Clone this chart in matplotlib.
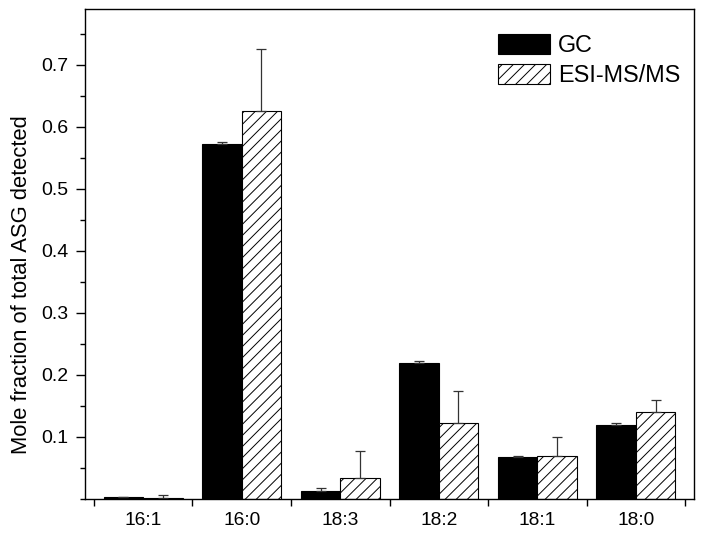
import numpy as np
import matplotlib.pyplot as plt
from matplotlib.ticker import MultipleLocator, NullFormatter

plt.rcParams['font.family'] = ['Liberation Sans', 'DejaVu Sans']
plt.rcParams['hatch.linewidth'] = 0.7

categories = ['16:1', '16:0', '18:3', '18:2', '18:1', '18:0']
gc_vals = [0.003, 0.572, 0.013, 0.219, 0.067, 0.120]
gc_err = [0.001, 0.003, 0.005, 0.003, 0.002, 0.002]
esi_vals = [0.002, 0.625, 0.034, 0.122, 0.069, 0.141]
esi_err = [0.005, 0.101, 0.044, 0.052, 0.031, 0.019]

fig = plt.figure(figsize=(7.04, 5.35), dpi=100)
ax = fig.add_axes([85 / 704, 36 / 535, 609 / 704, 490 / 535])

x = np.arange(1, len(categories) + 1)
w = 0.4
err_kw = dict(ecolor='#333333', elinewidth=0.9, capsize=3.6, capthick=0.9)

ax.bar(x - w / 2, gc_vals, w, color='black', edgecolor='black', linewidth=0.8,
       yerr=[np.zeros(len(gc_err)), gc_err], error_kw=err_kw, label='GC')
ax.bar(x + w / 2, esi_vals, w, color='white', edgecolor='black', linewidth=0.8,
       hatch='///', yerr=[np.zeros(len(esi_err)), esi_err], error_kw=err_kw,
       label='ESI-MS/MS')

ax.set_xlim(0.41, 6.59)
ax.set_ylim(0, 0.79)

# category ticks sit between the groups, labels at the centres
ax.set_xticks(np.arange(0.5, len(categories) + 1, 1.0))
ax.set_xticklabels([])
ax.set_xticks(x, minor=True)
ax.set_xticklabels(categories, minor=True, fontsize=13.8)
ax.tick_params(axis='x', which='major', direction='out', length=5, width=1)
ax.tick_params(axis='x', which='minor', length=0, pad=9.5)

ax.set_yticks([0.1, 0.2, 0.3, 0.4, 0.5, 0.6, 0.7])
ax.set_yticklabels(['0.1', '0.2', '0.3', '0.4', '0.5', '0.6', '0.7'], fontsize=14)
ax.yaxis.set_minor_locator(MultipleLocator(0.05))
ax.yaxis.set_minor_formatter(NullFormatter())
ax.tick_params(axis='y', which='major', direction='out', length=6.5, width=1, pad=5.5)
ax.tick_params(axis='y', which='minor', direction='out', length=3.6, width=1)

for s in ax.spines.values():
    s.set_linewidth(1.0)

ax.set_ylabel('Mole fraction of total ASG detected', fontsize=15.8)
ax.yaxis.set_label_coords(-0.087, 0.437)

ax.legend(loc='upper left', bbox_to_anchor=(498 / 704, 1 - 34 / 535),
          bbox_transform=fig.transFigure, frameon=False, fontsize=16.8,
          handlelength=2.22, handleheight=0.9, handletextpad=0.35,
          labelspacing=0.3, borderpad=0, borderaxespad=0)

fig.savefig('out.png', dpi=100)
